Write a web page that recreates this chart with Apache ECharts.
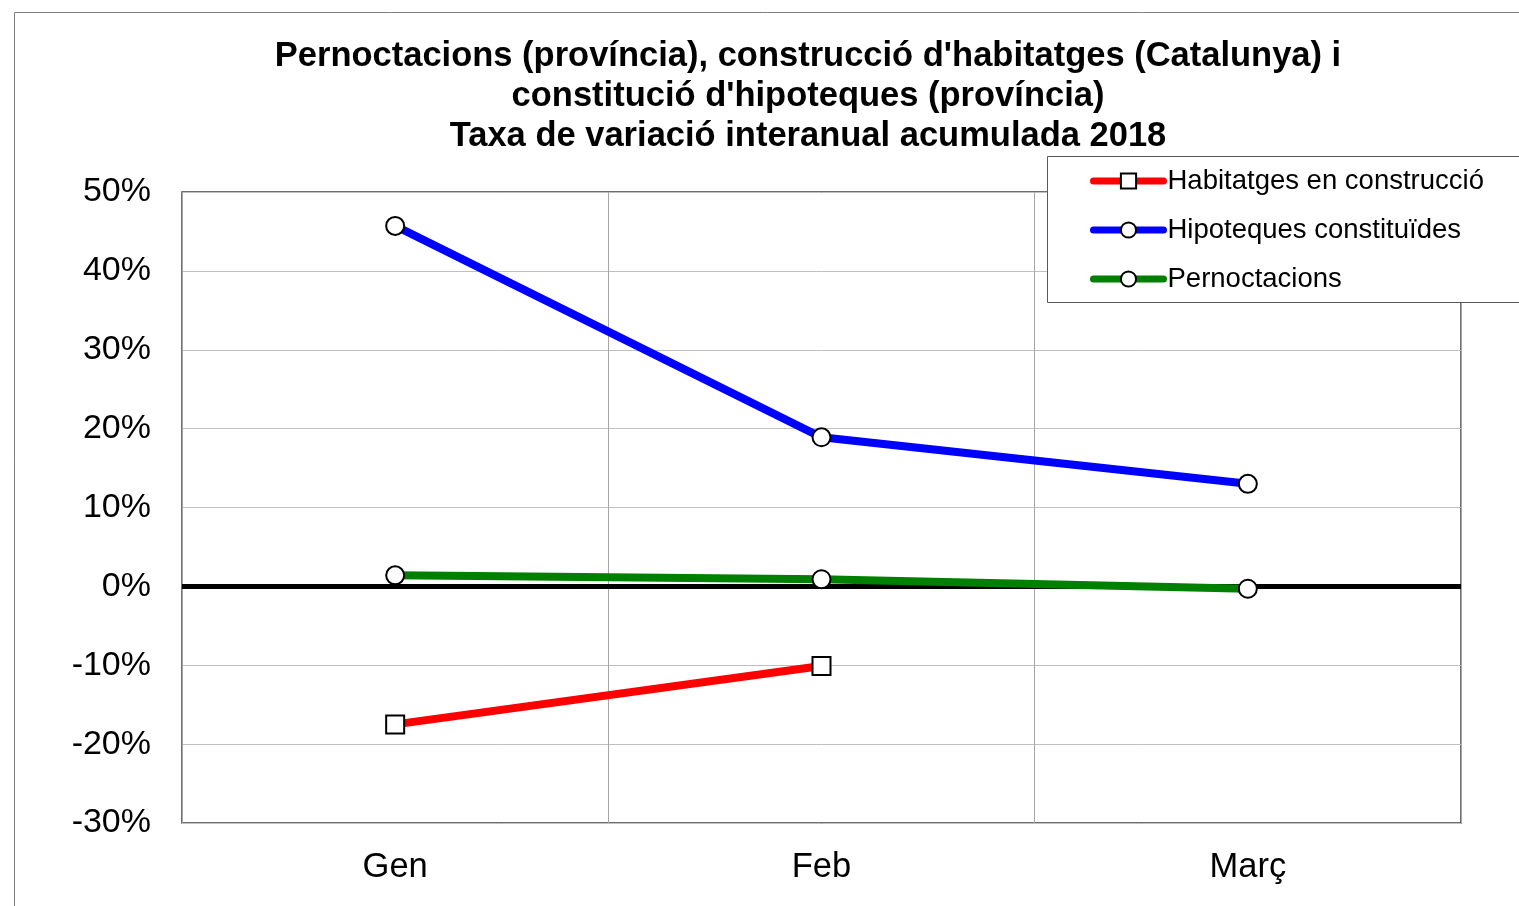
<!DOCTYPE html>
<html>
<head>
<meta charset="utf-8">
<script src="https://cdn.jsdelivr.net/npm/echarts@6/dist/echarts.min.js"></script>
<style>
  html, body { margin: 0; padding: 0; background: #fff; }
  #main { width: 1519px; height: 906px; }
</style>
</head>
<body>
<div id="main"></div>
<script>
// months of 2018
const mesos = ['Gen', 'Feb', 'Març'];
// accumulated year-on-year change, %
const habitatges = [-17.5, -10.1, null];
const hipoteques = [45.7, 18.9, 13.0];
const pernoctacions = [1.4, 0.9, -0.3];
const yTicks = { min: -30, max: 50, step: 10 };

const FONT = '"Liberation Sans", Arial, sans-serif';

function lineSeries(name, data, color, symbol) {
  return {
    name: name,
    type: 'line',
    data: data,
    symbol: symbol,
    symbolSize: 18,
    showAllSymbol: true,
    lineStyle: { color: color, width: 8 },
    itemStyle: { color: '#fff', borderColor: '#000', borderWidth: 2 },
    emphasis: { disabled: true },
    z: 3
  };
}

const chart = echarts.init(document.getElementById('main'));
chart.setOption({
  animation: false,
  textStyle: { fontFamily: FONT },
  title: {
    text: "Pernoctacions (província), construcció d'habitatges (Catalunya) i\nconstitució d'hipoteques (província)\nTaxa de variació interanual acumulada 2018",
    left: 803,
    textAlign: 'center',
    top: 31,
    textStyle: { fontSize: 34.5, fontWeight: 'bold', color: '#000', lineHeight: 40, fontFamily: FONT }
  },
  graphic: [
    { type: 'rect', shape: { x: 14.5, y: 12.5, width: 1700, height: 1000 },
      style: { fill: 'none', stroke: '#7f7f7f', lineWidth: 1 }, z: -10 },
    { type: 'rect', shape: { x: 1047.5, y: 156.5, width: 600, height: 146 },
      style: { fill: '#fff', stroke: '#595959', lineWidth: 1 }, z: 50 }
  ],
  legend: {
    orient: 'vertical',
    left: 1090,
    top: 167,
    itemWidth: 70,
    itemHeight: 19,
    itemGap: 21,
    padding: 0,
    z: 60,
    lineStyle: { width: 7, cap: 'round' },
    textStyle: { fontSize: 27.5, color: '#000', fontFamily: FONT, padding: [0, 0, 0, -1] },
    data: ['Habitatges en construcció', 'Hipoteques constituïdes', 'Pernoctacions']
  },
  grid: {
    left: 182, top: 192, width: 1279, height: 631,
    show: true, borderColor: '#404040', borderWidth: 1.5, containLabel: false
  },
  xAxis: {
    type: 'category',
    data: mesos,
    boundaryGap: true,
    axisLine: { show: false },
    axisTick: { show: false },
    axisLabel: { fontSize: 34.5, color: '#000', margin: 27, fontFamily: FONT },
    splitLine: { show: true, lineStyle: { color: '#a6a6a6', width: 1 } }
  },
  yAxis: {
    type: 'value',
    min: yTicks.min,
    max: yTicks.max,
    interval: yTicks.step,
    axisLine: { show: false },
    axisTick: { show: false },
    axisLabel: { fontSize: 34, color: '#000', margin: 31, formatter: '{value}%', fontFamily: FONT },
    splitLine: { show: true, lineStyle: { color: '#c0c0c0', width: 1 } }
  },
  series: [
    {
      // zero reference line, drawn under the data lines
      type: 'line',
      data: [],
      silent: true,
      z: 1,
      markLine: {
        silent: true,
        z: 1,
        symbol: 'none',
        label: { show: false },
        lineStyle: { color: '#000', width: 5, type: 'solid' },
        data: [{ yAxis: 0 }]
      }
    },
    lineSeries('Habitatges en construcció', habitatges, '#ff0000', 'rect'),
    lineSeries('Hipoteques constituïdes', hipoteques, '#0000ff', 'circle'),
    lineSeries('Pernoctacions', pernoctacions, '#008000', 'circle')
  ]
});
</script>
</body>
</html>
